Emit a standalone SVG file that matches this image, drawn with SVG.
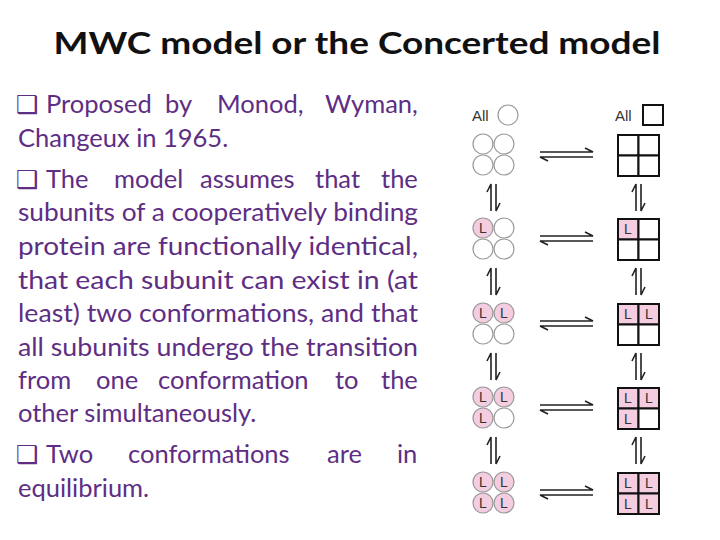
<svg xmlns="http://www.w3.org/2000/svg" width="720" height="540" viewBox="0 0 720 540">
<defs>
<style>
.t{font-family:Lato,"Liberation Sans",sans-serif;font-size:25.5px;fill:#5e2d84}
.b{font-family:"DejaVu Sans",sans-serif;font-size:25px;fill:#5e2d84}
.c{fill:#fff;stroke:#999;stroke-width:1.2}
.cf{fill:#f4cde0;stroke:#999;stroke-width:1.2}
.sq{fill:#fff;stroke:#111;stroke-width:2}
.sf{fill:#f4cde0;stroke:#111;stroke-width:2}
.L{font-family:"Liberation Sans",sans-serif;font-size:14px;fill:#333;text-anchor:middle}
.a{stroke:#222;stroke-width:1.6;fill:none}
</style>
<g id="hArrow"><path class="a" d="M0 0H53l-8 -4M53 5H0l8 4"/></g>
<g id="vArrow"><path class="a" d="M0 27V0l-4 8M5 0V27l4 -8"/></g>
</defs>
<rect width="720" height="540" fill="#fff"/>
<text x="357" y="54" text-anchor="middle" font-family="Lato,sans-serif" font-weight="bold" font-size="31" fill="#111" textLength="607" lengthAdjust="spacingAndGlyphs">MWC model or the Concerted model</text>
<g id="text">
<text class="b" x="16" y="113">❑</text>
<text class="t" y="113"><tspan x="46">Proposed</tspan><tspan x="165">by</tspan><tspan x="217">Monod,</tspan><tspan x="325">Wyman,</tspan></text>
<text class="t" x="18" y="147">Changeux in 1965.</text>
<text class="b" x="16" y="188">❑</text>
<text class="t" y="188"><tspan x="46">The</tspan><tspan x="114">model</tspan><tspan x="200">assumes</tspan><tspan x="315">that</tspan><tspan x="381">the</tspan></text>
<text class="t" x="18" y="221" textLength="400" lengthAdjust="spacingAndGlyphs">subunits of a cooperatively binding</text>
<text class="t" x="18" y="255" textLength="400" lengthAdjust="spacingAndGlyphs">protein are functionally identical,</text>
<text class="t" x="18" y="289" textLength="400" lengthAdjust="spacingAndGlyphs">that each subunit can exist in (at</text>
<text class="t" x="18" y="322" textLength="400" lengthAdjust="spacingAndGlyphs">least) two conformations, and that</text>
<text class="t" x="18" y="356" textLength="400" lengthAdjust="spacingAndGlyphs">all subunits undergo the transition</text>
<text class="t" y="389"><tspan x="18">from</tspan><tspan x="96">one</tspan><tspan x="158">conformation</tspan><tspan x="335">to</tspan><tspan x="381">the</tspan></text>
<text class="t" x="18" y="422">other simultaneously.</text>
<text class="b" x="16" y="463">❑</text>
<text class="t" y="463"><tspan x="46">Two</tspan><tspan x="128">conformations</tspan><tspan x="327">are</tspan><tspan x="397">in</tspan></text>
<text class="t" x="18" y="497">equilibrium.</text>
</g>
<g id="legend">
<text x="472" y="121" font-family="Liberation Sans,sans-serif" font-size="15" fill="#333">All</text>
<circle class="c" cx="508" cy="115" r="10"/>
<text x="615" y="121" font-family="Liberation Sans,sans-serif" font-size="15" fill="#333">All</text>
<rect class="sq" x="643" y="105" width="20" height="20"/>
</g>
<g id="r1l"><circle class="c" cx="483" cy="144" r="10"/><circle class="c" cx="504" cy="144" r="10"/><circle class="c" cx="483" cy="165" r="10"/><circle class="c" cx="504" cy="165" r="10"/></g>
<g id="r1r"><rect class="sq" x="618" y="135" width="20.5" height="20.5"/><rect class="sq" x="638.5" y="135" width="20.5" height="20.5"/><rect class="sq" x="618" y="155.5" width="20.5" height="20.5"/><rect class="sq" x="638.5" y="155.5" width="20.5" height="20.5"/></g>
<g id="r2l"><circle class="cf" cx="483" cy="228" r="10"/><circle class="c" cx="504" cy="228" r="10"/><circle class="c" cx="483" cy="249" r="10"/><circle class="c" cx="504" cy="249" r="10"/><text class="L" x="483" y="233">L</text></g>
<g id="r2r"><rect class="sf" x="618" y="219" width="20.5" height="20.5"/><rect class="sq" x="638.5" y="219" width="20.5" height="20.5"/><rect class="sq" x="618" y="239.5" width="20.5" height="20.5"/><rect class="sq" x="638.5" y="239.5" width="20.5" height="20.5"/><text class="L" x="628" y="234">L</text></g>
<g id="r3l"><circle class="cf" cx="483" cy="313" r="10"/><circle class="cf" cx="504" cy="313" r="10"/><circle class="c" cx="483" cy="334" r="10"/><circle class="c" cx="504" cy="334" r="10"/><text class="L" x="483" y="318">L</text><text class="L" x="504" y="318">L</text></g>
<g id="r3r"><rect class="sf" x="618" y="304" width="20.5" height="20.5"/><rect class="sf" x="638.5" y="304" width="20.5" height="20.5"/><rect class="sq" x="618" y="324.5" width="20.5" height="20.5"/><rect class="sq" x="638.5" y="324.5" width="20.5" height="20.5"/><text class="L" x="628" y="319">L</text><text class="L" x="649" y="319">L</text></g>
<g id="r4l"><circle class="cf" cx="483" cy="397" r="10"/><circle class="cf" cx="504" cy="397" r="10"/><circle class="cf" cx="483" cy="418" r="10"/><circle class="c" cx="504" cy="418" r="10"/><text class="L" x="483" y="402">L</text><text class="L" x="504" y="402">L</text><text class="L" x="483" y="423">L</text></g>
<g id="r4r"><rect class="sf" x="618" y="388" width="20.5" height="20.5"/><rect class="sf" x="638.5" y="388" width="20.5" height="20.5"/><rect class="sf" x="618" y="408.5" width="20.5" height="20.5"/><rect class="sq" x="638.5" y="408.5" width="20.5" height="20.5"/><text class="L" x="628" y="403">L</text><text class="L" x="649" y="403">L</text><text class="L" x="628" y="424">L</text></g>
<g id="r5l"><circle class="cf" cx="483" cy="482" r="10"/><circle class="cf" cx="504" cy="482" r="10"/><circle class="cf" cx="483" cy="503" r="10"/><circle class="cf" cx="504" cy="503" r="10"/><text class="L" x="483" y="487">L</text><text class="L" x="504" y="487">L</text><text class="L" x="483" y="508">L</text><text class="L" x="504" y="508">L</text></g>
<g id="r5r"><rect class="sf" x="618" y="473" width="20.5" height="20.5"/><rect class="sf" x="638.5" y="473" width="20.5" height="20.5"/><rect class="sf" x="618" y="493.5" width="20.5" height="20.5"/><rect class="sf" x="638.5" y="493.5" width="20.5" height="20.5"/><text class="L" x="628" y="488">L</text><text class="L" x="649" y="488">L</text><text class="L" x="628" y="509">L</text><text class="L" x="649" y="509">L</text></g>
<g id="connectors">
<use href="#hArrow" x="540" y="152"/><use href="#hArrow" x="540" y="236"/><use href="#hArrow" x="540" y="321"/><use href="#hArrow" x="540" y="405"/><use href="#hArrow" x="540" y="490"/>
<use href="#vArrow" x="491" y="184"/><use href="#vArrow" x="491" y="268"/><use href="#vArrow" x="491" y="353"/><use href="#vArrow" x="491" y="437"/>
<use href="#vArrow" x="636" y="184"/><use href="#vArrow" x="636" y="268"/><use href="#vArrow" x="636" y="353"/><use href="#vArrow" x="636" y="437"/>
</g>
</svg>
